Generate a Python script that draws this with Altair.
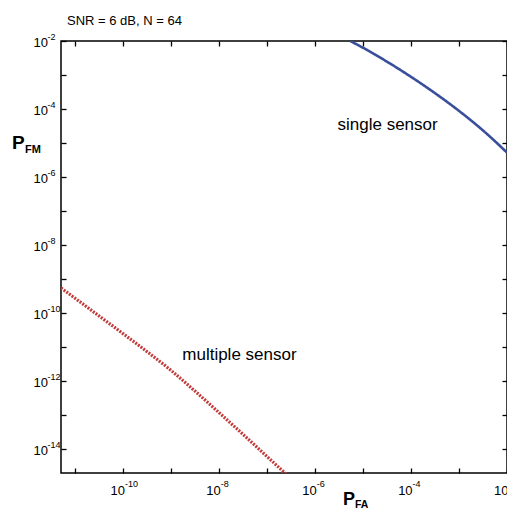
import altair as alt
import pandas as pd

# ---- data (log10 values) ----
single_log_pfa = [-5.27, -5.0, -4.5, -4.0, -3.5, -3.0, -2.5, -2.0]
single_log_pfm = [-2.0, -2.2, -2.61, -3.055, -3.535, -4.055, -4.63, -5.28]
multi_log_pfa = [-11.3, -11.0, -10.5, -10.0, -9.5, -9.0, -8.5, -8.0, -7.5, -7.0, -6.5]
multi_log_pfm = [-9.26, -9.57, -10.09, -10.61, -11.14, -11.69, -12.3, -12.93, -13.57, -14.22, -14.87]

series_names = ["single sensor", "multiple sensor"]
series_colors = ["#3a4f9c", "#c23a3a"]

x_tick_exps = list(range(-11, -1))          # every decade
x_label_exps = [-10, -8, -6, -4, -2]
y_tick_exps = list(range(-14, -1))
y_label_exps = [-14, -12, -10, -8, -6, -4, -2]

annot_text = ["single sensor", "multiple sensor"]
annot_log_x = [-4.49, -7.58]
annot_log_y = [-4.47, -11.24]

title_text = "SNR = 6 dB, N = 64"

FONT = "Liberation Sans, Arial, sans-serif"

rows = []
for lx, ly in zip(single_log_pfa, single_log_pfm):
    rows.append({"series": series_names[0], "pfa": 10 ** lx, "pfm": 10 ** ly, "order": lx})
for lx, ly in zip(multi_log_pfa, multi_log_pfm):
    rows.append({"series": series_names[1], "pfa": 10 ** lx, "pfm": 10 ** ly, "order": lx})
df = pd.DataFrame(rows)

annot = pd.DataFrame({"text": annot_text,
                      "pfa": [10 ** v for v in annot_log_x],
                      "pfm": [10 ** v for v in annot_log_y]})

EXP = "round(log(datum.value)/LN10)"

xscale = alt.Scale(type="log", domain=[5e-12, 1e-2], nice=False)
yscale = alt.Scale(type="log", domain=[2e-15, 1e-2], nice=False)

common = dict(ticks=False, tickSize=0, domain=False, grid=False, title=None,
              labelFont=FONT, labelColor="black", labelFlush=False, labelOverlap=False)

# "10" part of the tick labels
x_base_axis = alt.Axis(orient="bottom", values=[10.0 ** v for v in x_label_exps],
                       labelExpr="'10'", labelFontSize=13, labelAlign="right",
                       labelBaseline="top", labelOffset=1, labelPadding=11, **common)
y_base_axis = alt.Axis(orient="left", values=[10.0 ** v for v in y_label_exps],
                       labelExpr="'10'", labelFontSize=13, labelAlign="left",
                       labelBaseline="middle", labelPadding=28, labelOffset=1, **common)
# exponent part of the tick labels
x_exp_axis = alt.Axis(orient="bottom", values=[10.0 ** v for v in x_label_exps],
                      labelExpr=f"'' + {EXP}", labelFontSize=9, labelAlign="left",
                      labelBaseline="top", labelOffset=1, labelPadding=6, **common)
y_exp_axis = alt.Axis(orient="left", values=[10.0 ** v for v in y_label_exps],
                      labelExpr=f"'' + {EXP}", labelFontSize=9, labelAlign="left",
                      labelBaseline="middle", labelPadding=14, labelOffset=-5, **common)


def tick_axis(orient, exps):
    return alt.Axis(orient=orient, values=[10.0 ** v for v in exps], offset=-5,
                    tickSize=5, tickColor="black", tickWidth=1.3, labels=False,
                    domain=False, grid=False, title=None)


lines = alt.Chart(df).mark_line(clip=True, interpolate="monotone").encode(
    x=alt.X("pfa:Q", scale=xscale, axis=x_base_axis),
    y=alt.Y("pfm:Q", scale=yscale, axis=y_base_axis),
    order="order:Q",
    color=alt.Color("series:N", scale=alt.Scale(domain=series_names, range=series_colors), legend=None),
    strokeDash=alt.StrokeDash("series:N", scale=alt.Scale(domain=series_names, range=[[1, 0], [2, 1.3]]), legend=None),
    size=alt.Size("series:N", scale=alt.Scale(domain=series_names, range=[2.6, 3.2]), legend=None),
)

exp_layer = alt.Chart(df).mark_point(opacity=0).encode(
    x=alt.X("pfa:Q", scale=xscale, axis=x_exp_axis),
    y=alt.Y("pfm:Q", scale=yscale, axis=y_exp_axis),
)
ticks_bl = alt.Chart(df).mark_point(opacity=0).encode(
    x=alt.X("pfa:Q", scale=xscale, axis=tick_axis("bottom", x_tick_exps)),
    y=alt.Y("pfm:Q", scale=yscale, axis=tick_axis("left", y_tick_exps)),
)
ticks_tr = alt.Chart(df).mark_point(opacity=0).encode(
    x=alt.X("pfa:Q", scale=xscale, axis=tick_axis("top", x_tick_exps)),
    y=alt.Y("pfm:Q", scale=yscale, axis=tick_axis("right", y_tick_exps)),
)

labels = alt.Chart(annot).mark_text(font=FONT, fontSize=17, color="black").encode(
    x=alt.X("pfa:Q", scale=xscale, axis=None),
    y=alt.Y("pfm:Q", scale=yscale, axis=None),
    text="text:N",
)


def free_text(t, x, y, size, weight="normal"):
    return alt.Chart(pd.DataFrame({"t": [t]})).mark_text(
        font=FONT, fontSize=size, fontWeight=weight, align="left",
        baseline="alphabetic", color="black"
    ).encode(x=alt.value(x), y=alt.value(y), text="t:N")


title = free_text(title_text, 6, -16, 13)
pfm_P = free_text("P", -49, 108, 19, "bold")
pfm_sub = free_text("FM", -36, 112, 11, "bold")
pfa_P = free_text("P", 282, 464, 18, "bold")
pfa_sub = free_text("FA", 294, 467, 10.5, "bold")

chart = alt.layer(
    lines, exp_layer, ticks_bl, ticks_tr, labels, title, pfm_P, pfm_sub, pfa_P, pfa_sub
).resolve_axis(
    x="independent", y="independent"
).properties(
    width=446, height=432,
    autosize=alt.AutoSizeParams(type="none"),
    padding={"left": 53, "top": 33, "right": 0, "bottom": 37},
).configure_view(stroke="black", strokeWidth=1.5)

chart.save("out.html", embed_options={"renderer": "svg", "actions": False})
